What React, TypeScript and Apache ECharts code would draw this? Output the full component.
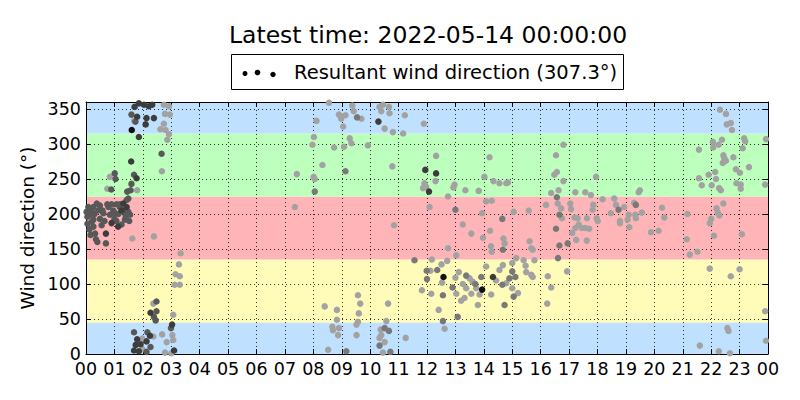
import React, { useEffect, useRef } from "react";
import * as echarts from "echarts";

const TITLE = "Latest time: 2022-05-14 00:00:00";
const LEGEND_LABEL = "Resultant wind direction (307.3°)";
const Y_NAME = "Wind direction (°)";

const bandEdges = [0, 45, 135, 225, 315, 360];
const bandColors = ["#bfe0ff", "#fffbb8", "#ffb5b8", "#bdffbd", "#bfe0ff"];

const xTickLabels = [
  "00", "01", "02", "03", "04", "05", "06", "07", "08", "09", "10", "11", "12",
  "13", "14", "15", "16", "17", "18", "19", "20", "21", "22", "23", "00",
];
const yTickLabels = ["0", "50", "100", "150", "200", "250", "300", "350"];

// [hour of day, direction in degrees]
const blackPoints = [
  [1.61, 320], [12.58, 110], [13.94, 92],
];

const darkPoints = [
  [1.71, 353], [1.86, 358], [2.04, 356], [2.21, 354], [2.33, 356], [1.80, 339],
  [2.13, 337], [2.39, 337], [2.10, 328], [1.86, 310], [1.59, 275], [1.78, 251],
  [2.27, 59], [3.03, 42], [2.25, 26], [1.80, 21], [1.75, 13], [1.92, 14],
  [2.13, 18], [1.69, 5], [1.86, 4], [3.1, 5], [0.70, 172], [1.13, 182],
  [1.31, 215], [1.43, 210], [1.25, 205], [0.9, 187], [10.29, 332], [11.94, 263],
  [12.32, 258], [12.07, 232], [14.32, 110],
];

const grayPoints = [
  [0.08, 210], [0.14, 199], [0.20, 189], [0.26, 182], [0.32, 172], [0.35, 164],
  [0.40, 160], [0.70, 158], [0.55, 184], [0.49, 193], [0.61, 201], [0.79, 210],
  [0.84, 199], [1.07, 190], [1.02, 201], [1.19, 210], [1.43, 220], [1.49, 222],
  [1.37, 203], [1.55, 199], [1.52, 190], [1.14, 200], [0.26, 210], [0.38, 215],
  [0.43, 205], [0.20, 206], [0.05, 186], [0.05, 196], [0.26, 192], [0.49, 212],
  [0.75, 214], [0.96, 205], [1.0, 193], [1.25, 185], [1.37, 192], [1.2, 214],
  [1.31, 205], [1.49, 203], [1.08, 214], [0.02, 203], [0.12, 178], [0.58, 205],
  [0.9, 214], [1.4, 197], [0.65, 190], [0.3, 200], [1.01, 258], [1.04, 250],
  [0.89, 235], [1.69, 256], [1.57, 234], [1.45, 232], [1.60, 243], [1.6, 342],
  [1.74, 332], [2.66, 286], [2.48, 61], [2.39, 53], [2.45, 48], [2.99, 37],
  [1.69, 31], [2.16, 31], [2.27, 10], [2.13, 3], [2.48, 75], [0.16, 170],
];

const midPoints = [
  [9.54, 338], [8.05, 232], [9.13, 261], [13.0, 206], [11.56, 134], [11.99, 119],
  [12.36, 120], [12.0, 107], [12.56, 84], [13.38, 112], [13.91, 110], [12.56, 47],
  [13.08, 53], [10.51, 37], [10.66, 33], [10.33, 12], [10.71, 3], [9.16, 4],
  [14.65, 193], [14.67, 149], [15.0, 118], [15.11, 110], [14.9, 108], [14.65, 99],
  [15.05, 82], [14.73, 70], [16.57, 224], [16.66, 199], [16.54, 179], [16.66, 155],
  [16.61, 137], [16.95, 158], [18.74, 206], [19.35, 213], [12.9, 95], [13.7, 100],
];

const lightPoints = [
  [0.84, 253], [0.75, 236], [1.80, 234], [1.70, 333], [2.74, 356], [2.92, 354],
  [2.78, 343], [2.95, 342], [2.74, 329], [2.62, 321], [2.80, 320], [2.92, 314],
  [2.86, 306], [2.67, 261], [1.63, 165], [2.39, 168], [3.33, 144], [3.27, 128],
  [3.15, 114], [3.30, 111], [3.12, 99], [3.30, 99], [2.37, 72], [3.07, 56],
  [1.98, 22], [2.37, 25], [2.68, 28], [2.84, 17], [3.07, 20], [3.04, 27],
  [2.78, 2], [3.0, 1], [1.98, 7], [7.42, 257], [7.35, 210],
  [8.55, 359], [8.90, 342], [8.98, 336], [9.13, 341], [9.05, 325], [9.37, 355],
  [9.42, 347], [9.69, 336], [10.33, 353], [10.45, 356], [10.66, 353], [10.39, 347],
  [10.51, 322], [10.68, 344], [10.80, 317], [11.16, 315], [11.22, 341], [11.89, 329],
  [8.11, 333], [8.02, 310], [7.97, 299], [8.73, 295], [9.08, 296], [9.28, 308],
  [9.34, 301], [9.92, 298], [8.32, 270], [8.01, 253], [8.05, 250], [10.78, 268],
  [12.32, 283], [12.30, 247], [11.91, 244], [11.86, 237], [11.97, 239], [12.97, 242],
  [12.93, 238], [13.35, 234], [13.82, 233], [14.20, 281], [14.02, 253], [14.34, 247],
  [12.74, 225], [12.09, 210], [10.84, 184], [14.28, 219], [14.08, 218], [13.94, 201],
  [13.26, 185], [13.56, 172], [13.97, 166], [14.22, 176], [12.74, 151], [13.03, 141],
  [12.71, 133], [12.17, 135], [14.25, 154], [14.28, 146],
  [12.12, 119], [12.51, 128], [12.53, 102], [11.82, 91], [12.15, 86], [13.0, 109],
  [13.12, 117], [13.26, 100], [13.50, 108], [13.61, 103], [13.38, 94], [13.56, 86],
  [13.73, 94], [13.85, 85], [13.03, 86], [13.20, 76], [13.32, 80], [13.79, 70],
  [12.41, 63], [12.62, 36], [14.43, 105], [14.26, 85], [14.08, 125],
  [8.40, 68], [8.83, 63], [9.57, 84], [9.65, 72], [9.60, 58], [9.57, 46],
  [9.52, 42], [8.83, 49], [8.67, 39], [8.69, 34], [8.90, 37], [8.87, 27],
  [9.52, 27], [8.52, 6], [10.63, 72], [10.57, 47], [10.37, 35], [10.33, 23],
  [10.39, 27], [10.51, 17], [10.45, 2], [11.25, 23],
  [14.55, 244], [14.79, 244], [14.85, 245], [15.05, 203], [14.69, 165], [14.73, 158],
  [15.61, 161], [15.67, 151], [15.72, 149], [15.14, 137], [15.40, 134], [15.47, 126],
  [15.78, 134], [15.67, 113], [15.72, 110], [15.49, 117], [15.0, 130], [14.67, 127],
  [14.55, 120], [14.79, 101], [15.0, 94], [15.2, 87], [16.25, 111], [16.37, 95],
  [16.23, 72], [15.58, 205],
  [16.80, 299], [16.54, 284], [16.48, 256], [16.57, 260], [16.80, 247], [16.63, 234],
  [16.37, 230], [16.60, 215], [16.72, 208], [16.75, 194], [16.19, 213], [17.04, 215],
  [17.07, 207], [17.19, 195], [17.30, 194], [17.34, 185], [17.22, 180], [17.11, 173],
  [17.25, 163], [17.45, 180], [17.57, 180], [17.71, 179], [17.62, 162], [17.63, 194],
  [17.22, 231], [17.57, 231], [17.77, 227], [17.85, 213], [17.83, 206], [17.95, 253],
  [17.97, 194], [18.01, 190], [16.93, 118], [18.18, 221], [18.59, 222], [18.65, 213],
  [18.47, 201], [18.79, 190], [18.79, 187], [18.94, 210], [19.10, 199], [19.06, 192],
  [19.12, 181], [19.29, 216], [19.33, 199], [19.35, 194], [19.45, 231], [19.49, 234],
  [19.56, 202], [19.88, 174], [20.15, 176], [20.27, 209], [20.35, 195], [21.14, 164],
  [21.17, 200], [21.25, 142], [21.52, 146],
  [22.31, 349], [22.52, 343], [22.55, 328], [22.69, 330], [22.73, 320], [23.16, 308],
  [23.2, 304], [22.06, 303], [22.38, 306], [22.26, 299], [22.07, 295], [21.57, 292],
  [23.11, 294], [23.93, 307], [22.43, 284], [22.46, 280], [22.41, 273], [22.52, 276],
  [22.78, 281], [23.33, 267], [22.14, 260], [21.91, 256], [22.87, 264], [23.01, 259],
  [21.57, 251], [22.17, 250], [21.67, 241], [22.02, 241], [22.28, 237], [22.34, 234],
  [22.89, 244], [23.04, 242], [23.04, 236], [23.90, 242], [22.43, 215], [22.19, 208],
  [22.23, 202], [22.29, 198], [22.0, 193], [21.95, 187], [22.1, 169], [23.08, 171],
  [21.95, 122], [23.0, 121], [22.69, 111], [23.90, 61], [22.57, 37], [22.61, 33],
  [21.6, 12], [22.27, 4], [22.66, 1], [23.93, 19],
];

const FONT = "DejaVu Sans";

export default function App() {
  const ref = useRef<HTMLDivElement>(null);

  useEffect(() => {
    if (!ref.current) return;
    const chart = echarts.init(ref.current, null, { renderer: "svg" });

    const gridLine = { show: true, lineStyle: { color: "#000", width: 0.8, type: [1, 3] as any } };
    const tickIn = { show: true, inside: true, length: 5, lineStyle: { color: "#000", width: 1 } };
    const spine = { show: true, onZero: false, lineStyle: { color: "#000", width: 1 } };

    const bandAreas = bandColors.map((c, i) => [
      { yAxis: bandEdges[i], itemStyle: { color: c, opacity: 1 } },
      { yAxis: bandEdges[i + 1] },
    ]);

    const scatter = (data: number[][], color: string) => ({
      type: "scatter",
      data,
      symbolSize: 6.5,
      itemStyle: { color, opacity: 1 },
      z: 5,
      silent: true,
    });

    chart.setOption({
      animation: false,
      backgroundColor: "#fff",
      textStyle: { fontFamily: FONT },
      grid: { left: 86, right: 32, top: 102, bottom: 46, show: false },
      xAxis: [
        {
          type: "value",
          min: 0,
          max: 24,
          interval: 1,
          z: 3,
          axisLine: spine,
          axisTick: tickIn,
          axisLabel: {
            color: "#000",
            fontFamily: FONT,
            fontSize: 17.5,
            lineHeight: 13,
            margin: 8,
            formatter: (v: number) => xTickLabels[Math.round(v)] ?? "",
          },
          splitLine: gridLine,
        },
        {
          type: "value",
          position: "top",
          min: 0,
          max: 24,
          interval: 1,
          z: 3,
          axisLine: spine,
          axisTick: tickIn,
          axisLabel: { show: false },
          splitLine: { show: false },
        },
      ],
      yAxis: [
        {
          type: "value",
          min: 0,
          max: 360,
          interval: 50,
          z: 3,
          name: Y_NAME,
          nameLocation: "middle",
          nameGap: 47,
          nameTextStyle: { color: "#000", fontFamily: FONT, fontSize: 18.5 },
          axisLine: spine,
          axisTick: tickIn,
          axisLabel: {
            color: "#000",
            fontFamily: FONT,
            fontSize: 17.5,
            lineHeight: 13,
            margin: 5,
            padding: [0, 0, 3, 0],
            showMaxLabel: false,
            formatter: (v: number) => (v % 50 === 0 ? yTickLabels[v / 50] ?? "" : ""),
          },
          splitLine: gridLine,
        },
        {
          type: "value",
          position: "right",
          min: 0,
          max: 360,
          interval: 50,
          z: 3,
          axisLine: spine,
          axisTick: tickIn,
          axisLabel: { show: false },
          splitLine: { show: false },
        },
      ],
      series: [
        {
          type: "scatter",
          data: [],
          z: 1,
          silent: true,
          markArea: { silent: true, z: 1, data: bandAreas },
        },
        scatter(lightPoints, "#a2a2a2"),
        scatter(midPoints, "#787878"),
        scatter(grayPoints, "#585858"),
        scatter(darkPoints, "#3c3c3c"),
        scatter(blackPoints, "#111111"),
      ],
      graphic: [
        {
          type: "text",
          x: 428,
          y: 35,
          style: {
            text: TITLE,
            fontFamily: FONT,
            fontSize: 23.5,
            fill: "#000",
            textAlign: "center",
            textVerticalAlign: "middle",
          },
        },
        {
          type: "rect",
          shape: { x: 231.5, y: 54.5, width: 392, height: 35 },
          style: { fill: "#fff", stroke: "#000", lineWidth: 1 },
        },
        { type: "circle", shape: { cx: 245, cy: 73.5, r: 2.5 }, style: { fill: "#000" } },
        { type: "circle", shape: { cx: 257.5, cy: 72.5, r: 2.8 }, style: { fill: "#000" } },
        { type: "circle", shape: { cx: 273, cy: 74.5, r: 2.7 }, style: { fill: "#000" } },
        {
          type: "text",
          x: 294,
          y: 72,
          style: {
            text: LEGEND_LABEL,
            fontFamily: FONT,
            fontSize: 19.5,
            fill: "#000",
            textAlign: "left",
            textVerticalAlign: "middle",
          },
        },
      ],
    });

    return () => chart.dispose();
  }, []);

  return (
    <div
      ref={ref}
      style={{ position: "fixed", left: 0, top: 0, width: 800, height: 400, background: "#fff" }}
    />
  );
}
